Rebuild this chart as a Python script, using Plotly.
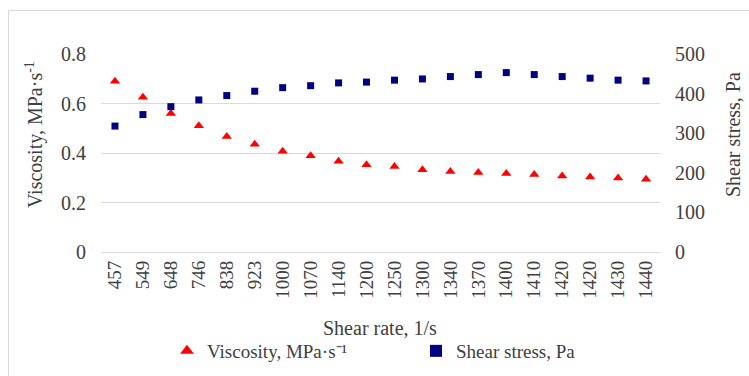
import plotly.graph_objects as go

shear_rate_labels = ["457", "549", "648", "746", "838", "923", "1000", "1070", "1140", "1200",
                     "1250", "1300", "1340", "1370", "1400", "1410", "1420", "1420", "1430", "1440"]
viscosity = [0.69, 0.625, 0.56, 0.51, 0.467, 0.435, 0.407, 0.389, 0.367, 0.353,
             0.345, 0.332, 0.325, 0.321, 0.317, 0.313, 0.307, 0.303, 0.299, 0.294]
shear_stress = [318, 347, 367, 384, 395, 406, 415, 420, 427, 429,
                434, 437, 443, 448, 453, 448, 443, 439, 434, 432]
left_ticks = [0, 0.2, 0.4, 0.6, 0.8]
right_ticks = [0, 100, 200, 300, 400, 500]

idx = list(range(len(shear_rate_labels)))
FONT = "Liberation Serif, Times New Roman, serif"
GRID = "#D9D9D9"
TXT = "#404040"

fig = go.Figure()
fig.add_trace(go.Scatter(
    x=idx, y=viscosity, mode="markers", name="Viscosity, MPa·s⁻¹",
    marker=dict(symbol="triangle-up", size=9, color="#FF0000"),
    yaxis="y"))
fig.add_trace(go.Scatter(
    x=idx, y=shear_stress, mode="markers", name="Shear stress, Pa",
    marker=dict(symbol="square", size=7, color="#000080"),
    yaxis="y2"))

fig.update_layout(
    width=749, height=376,
    margin=dict(l=101, r=89, t=54, b=124, autoexpand=False),
    paper_bgcolor="white", plot_bgcolor="white",
    font=dict(family=FONT, size=19, color=TXT),
    showlegend=True,
    legend=dict(orientation="h", x=(167 - 101) / 559, xanchor="left", y=-0.50, yanchor="middle",
                entrywidth=204, entrywidthmode="pixels",
                font=dict(family=FONT, size=19, color=TXT),
                bgcolor="rgba(0,0,0,0)", itemsizing="constant"),
    xaxis=dict(
        tickmode="array", tickvals=idx, ticktext=shear_rate_labels,
        range=[-0.5, len(idx) - 0.5], tickangle=-90,
        showgrid=False, zeroline=False, showline=False, ticks="",
        tickfont=dict(family=FONT, size=19, color=TXT),
        ticklabelstandoff=4, automargin=False,
    ),
    yaxis=dict(
        range=[0, 0.8], tickmode="array", tickvals=left_ticks,
        ticktext=[str(v) if v != 0 else "0" for v in left_ticks],
        showgrid=True, gridcolor=GRID, gridwidth=1,
        zeroline=True, zerolinecolor=GRID, zerolinewidth=1,
        showline=False, ticks="", ticklabelstandoff=14, automargin=False,
        tickfont=dict(family=FONT, size=20, color=TXT),
    ),
    yaxis2=dict(
        range=[0, 500], tickmode="array", tickvals=right_ticks,
        overlaying="y", side="right", showgrid=False, zeroline=False,
        showline=False, ticks="", ticklabelstandoff=14, automargin=False,
        tickfont=dict(family=FONT, size=20, color=TXT),
    ),
    annotations=[
        dict(text="Viscosity, MPa·s<sup>-1</sup>", xref="paper", yref="paper",
             x=(34 - 101) / 559, y=(251.7 - 135) / 197.7, textangle=-90,
             showarrow=False, xanchor="center", yanchor="middle",
             font=dict(family=FONT, size=20, color=TXT)),
        dict(text="Shear stress, Pa", xref="paper", yref="paper",
             x=(733 - 101) / 559, y=(251.7 - 135) / 197.7, textangle=-90,
             showarrow=False, xanchor="center", yanchor="middle",
             font=dict(family=FONT, size=20, color=TXT)),
        dict(text="Shear rate, 1/s", xref="paper", yref="paper",
             x=(380 - 101) / 559, y=(251.7 - 328) / 197.7,
             showarrow=False, xanchor="center", yanchor="middle",
             font=dict(family=FONT, size=20, color=TXT)),
    ],
    shapes=[dict(type="rect", xref="paper", yref="paper",
                 x0=(8.5 - 101) / 559, x1=(760 - 101) / 559,
                 y0=(251.7 - 400) / 197.7, y1=(251.7 - 10.5) / 197.7,
                 line=dict(color=GRID, width=1), fillcolor="rgba(0,0,0,0)",
                 layer="below")],
)

fig.write_html("out.html", config={"displayModeBar": False},
               post_script="document.body.style.margin='0';document.body.style.overflow='hidden';")
